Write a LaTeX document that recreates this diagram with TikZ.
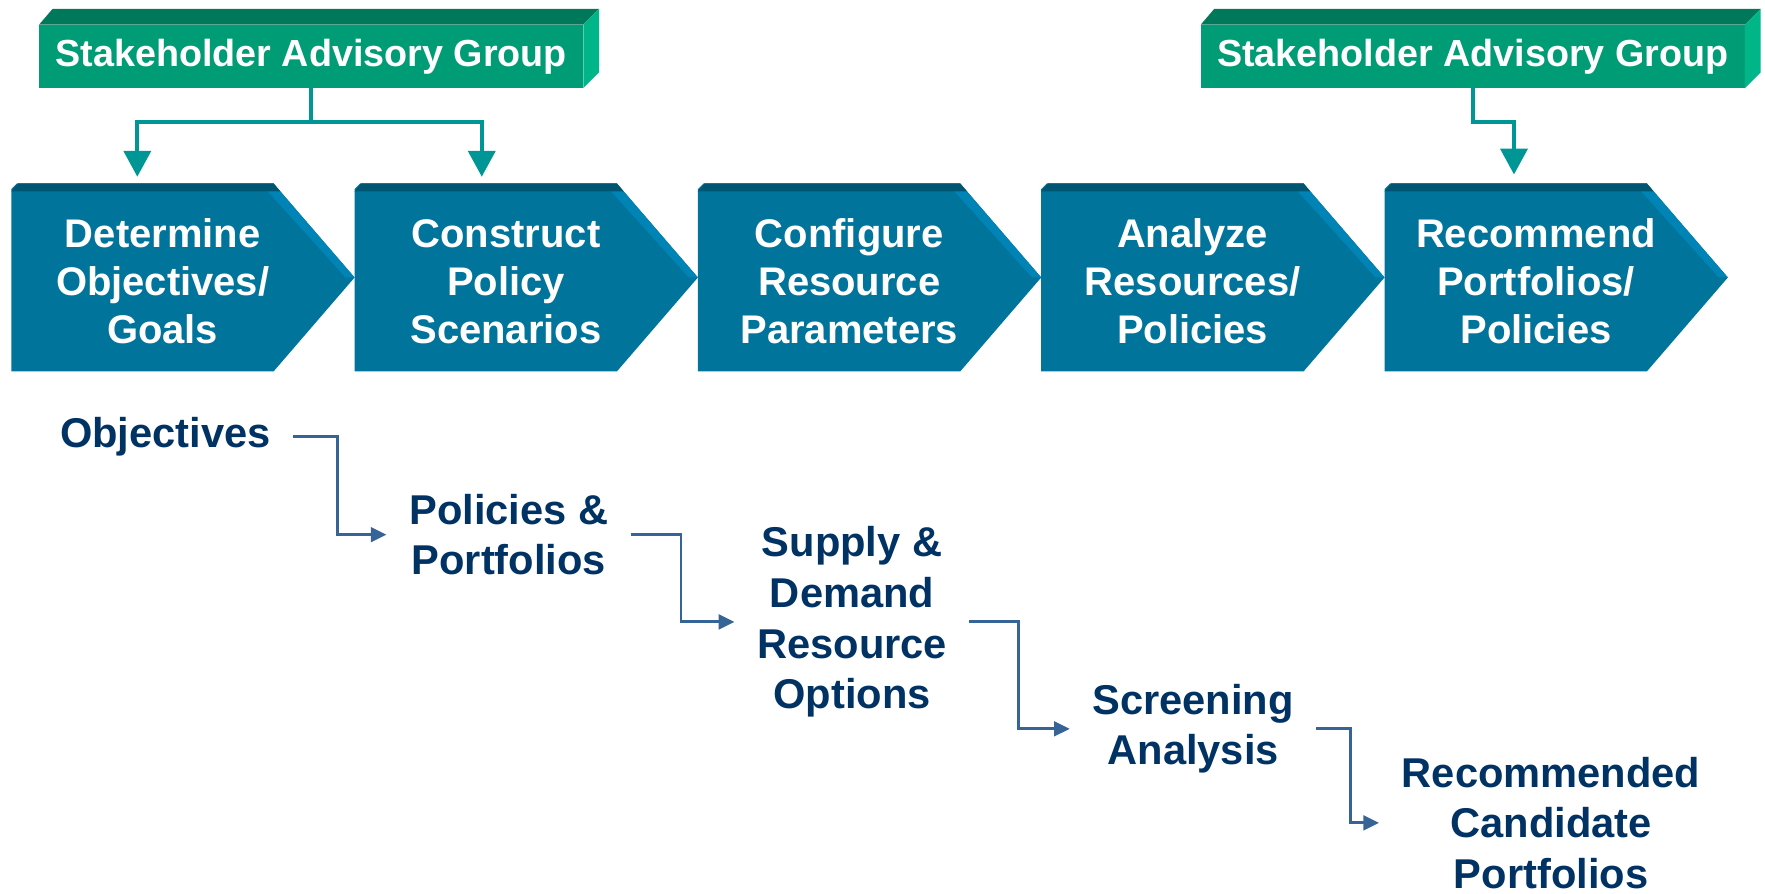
\documentclass[tikz,border=0pt]{standalone}
\usepackage{fontspec}
\setmainfont{Liberation Sans}
\usetikzlibrary{arrows.meta,calc}
\definecolor{gfront}{RGB}{0,156,118}
\definecolor{gtop}{RGB}{0,120,90}
\definecolor{gside}{RGB}{0,182,136}
\definecolor{tealc}{RGB}{0,150,150}
\definecolor{chmain}{RGB}{0,116,155}
\definecolor{chtop}{RGB}{0,85,115}
\definecolor{chside}{RGB}{0,132,182}
\definecolor{navy}{RGB}{0,50,100}
\definecolor{bluec}{RGB}{54,100,150}
\newcommand\mychev[3]{%
  \fill[chmain] (#1,168) -- (#1+5,163) -- (#1+233,163) -- (#1+305,246.5) -- (#1+233,330) -- (#1,330) -- cycle;
  \fill[chside] (#1+233,163) -- (#1+305,246.5) -- (#1+297,246.5) -- (#1+227,169) -- cycle;
  \fill[chtop] (#1,170) -- (#1+6,163) -- (#1+233,163) -- (#1+239,170) -- cycle;
  \node[chevtext] (#2) at (#1+134.5,250) {#3};}
\begin{document}
\begin{tikzpicture}[x=1pt,y=-1pt,
  sagbox/.style={fill=gfront, minimum width=483pt, minimum height=56pt, inner sep=0pt, text=white, font=\fontsize{33.5}{38}\selectfont\bfseries},
  chevtext/.style={align=center, text=white, inner sep=0pt, font=\fontsize{35.5}{42.5}\selectfont\bfseries},
  outtext/.style={align=center, text=navy, inner sep=0pt, font=\fontsize{37}{45}\selectfont\bfseries},
  tealln/.style={draw=tealc, line width=3.5pt},
  tealarr/.style={draw=tealc, line width=3.5pt, -{Triangle[width=24pt,length=23pt]}},
  bluearr/.style={draw=bluec, line width=2.6pt, -{Triangle[width=13pt,length=14pt]}, shorten <=19.5pt, shorten >=20pt},
  gtopf/.style={fill=gtop}, gsidef/.style={fill=gside}
]
\useasboundingbox (0,0) rectangle (1568,794);

% Stakeholder boxes
\node[sagbox] (sag1) at (276.5,50) {Stakeholder Advisory Group};
\fill[gtopf] (sag1.north west) -- ++(12,-14) -- ([shift={(14,-14)}]sag1.north east) -- (sag1.north east) -- cycle;
\fill[gsidef] (sag1.north east) -- ++(14,-14) -- ([shift={(14,-14)}]sag1.south east) -- (sag1.south east) -- cycle;

\node[sagbox] (sag2) at (1308.5,50) {Stakeholder Advisory Group};
\fill[gtopf] (sag2.north west) -- ++(12,-14) -- ([shift={(14,-14)}]sag2.north east) -- (sag2.north east) -- cycle;
\fill[gsidef] (sag2.north east) -- ++(14,-14) -- ([shift={(14,-14)}]sag2.south east) -- (sag2.south east) -- cycle;

% Chevrons
\mychev{10}{c1}{Determine\\Objectives/\\Goals}
\mychev{315}{c2}{Construct\\Policy\\Scenarios}
\mychev{620}{c3}{Configure\\Resource\\Parameters}
\mychev{925}{c4}{Analyze\\Resources/\\Policies}
\mychev{1230}{c5}{Recommend\\Portfolios/\\Policies}

% teal connectors
\coordinate (t1) at (122,157);
\coordinate (t2) at (428,157);
\coordinate (t5) at (1345,155);
\draw[tealln] (sag1.south) -- ++(0,30) coordinate (j1);
\draw[tealarr] (j1) -| (t1);
\draw[tealarr] (j1) -| (t2);
\draw[tealarr] (sag2.south) -- ++(0,30) -| (t5);

% outputs
\node[outtext] (o1) at (147,388) {Objectives};
\node[outtext] (p1) at (452,475) {Policies \&\\Portfolios};
\node[outtext] (s1) at (757,552.5) {Supply \&\\Demand\\Resource\\Options};
\node[outtext] (a1) at (1060,647.5) {Screening\\Analysis};
\node[outtext] (r1) at (1378,731) {Recommended\\Candidate\\Portfolios};

\coordinate (b1) at (300,0);
\coordinate (b2) at (605,0);
\coordinate (b3) at (905,0);
\coordinate (b4) at (1200,0);
\draw[bluearr] (o1.east) -- (o1.east -| b1) |- (p1.west);
\draw[bluearr] (p1.east) -- (p1.east -| b2) |- (s1.west);
\draw[bluearr] (s1.east) -- (s1.east -| b3) |- (a1.west);
\draw[bluearr] (a1.east) -- (a1.east -| b4) |- (r1.west);
\end{tikzpicture}
\end{document}
